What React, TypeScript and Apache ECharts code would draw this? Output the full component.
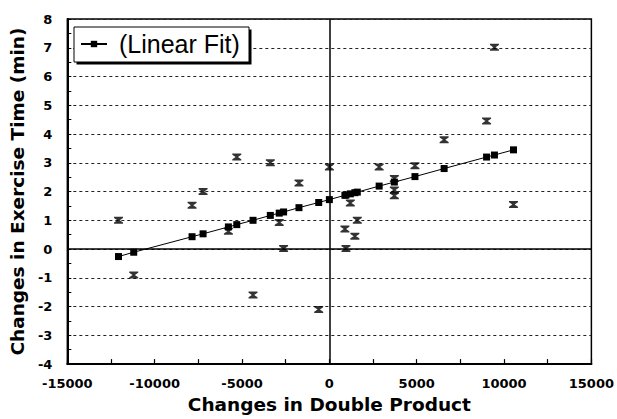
import React, { useEffect, useRef } from "react";
import * as echarts from "echarts";

// Linear fit points (x: change in double product, y: fitted change in exercise time)
const fitX = [-12070, -11200, -7860, -7230, -5780, -5300, -4370, -3380, -2870, -2620, -1740, -610, 0, 890, 950, 1200, 1460, 1600, 2850, 3720, 4900, 6570, 9000, 9450, 10540];
const fitY = [-0.26, -0.11, 0.43, 0.53, 0.77, 0.85, 1.0, 1.17, 1.25, 1.29, 1.44, 1.62, 1.72, 1.87, 1.88, 1.92, 1.96, 1.98, 2.19, 2.33, 2.52, 2.8, 3.2, 3.27, 3.45];

// Observed points
const obsX = [-12070, -11200, -7860, -7230, -5780, -5300, -4370, -3380, -2870, -2620, -1740, -610, 0, 890, 950, 1200, 1460, 1600, 2850, 3720, 3720, 3720, 4900, 6570, 9000, 9450, 10540];
const obsY = [1.0, -0.9, 1.52, 2.0, 0.62, 3.2, -1.6, 3.0, 0.92, 0.02, 2.3, -2.1, 2.85, 0.7, 0.02, 1.6, 0.45, 1.0, 2.85, 2.45, 2.05, 1.85, 2.9, 3.8, 4.45, 7.02, 1.55];

const xTitle = "Changes in Double Product";
const yTitle = "Changes in Exercise Time (min)";
const fitName = "(Linear Fit)";

const HOURGLASS = "path://M0,0 H10 V1.8 L6.3,5 L10,8.2 V10 H0 V8.2 L3.7,5 L0,1.8 Z";

export default function App() {
  const ref = useRef<HTMLDivElement>(null);
  useEffect(() => {
    if (!ref.current) return;
    const chart = echarts.init(ref.current, null, { renderer: "svg" });
    const fitData = fitX.map((x, i) => [x, fitY[i]]);
    const obsData = obsX.map((x, i) => [x, obsY[i]]);
    const tickFont = { fontFamily: "DejaVu Sans", fontWeight: "bold" as const, fontSize: 13, color: "#000" };
    chart.setOption({
      animation: false,
      backgroundColor: "#fff",
      grid: {
        left: 63,
        right: 22,
        top: 19,
        bottom: 48,
        show: true,
        borderColor: "#000",
        borderWidth: 1.5,
        backgroundColor: "transparent",
      },
      legend: {
        data: [fitName],
        left: 80,
        top: 29,
        orient: "horizontal",
        itemWidth: 26,
        itemHeight: 8,
        padding: 0,
        formatter: (n: string) => " " + n,
        textStyle: { fontFamily: "Liberation Sans", fontSize: 25, color: "#000", lineHeight: 30 },
        z: 10,
      },
      graphic: [
        {
          type: "rect",
          z: 8,
          shape: { x: 76.5, y: 29.5, width: 175, height: 35 },
          style: { fill: "#000" },
        },
        {
          type: "rect",
          z: 9,
          shape: { x: 74, y: 27, width: 175, height: 35 },
          style: { fill: "#fff", stroke: "#000", lineWidth: 1 },
        },
      ],
      xAxis: {
        type: "value",
        min: -15000,
        max: 15000,
        interval: 5000,
        name: xTitle,
        nameLocation: "middle",
        nameGap: 28,
        nameTextStyle: { fontFamily: "DejaVu Sans", fontWeight: "bold", fontSize: 18.5, color: "#000" },
        axisLine: { show: true, onZero: false, lineStyle: { color: "#000", width: 2 } },
        axisTick: { show: true, inside: true, length: 5, lineStyle: { color: "#000", width: 1.2 } },
        minorTick: { show: true, splitNumber: 2, length: 5, lineStyle: { color: "#000", width: 1.2 } },
        axisLabel: { ...tickFont, margin: 13, formatter: (v: number) => String(v) },
        splitLine: { show: false },
      },
      yAxis: {
        type: "value",
        min: -4,
        max: 8,
        interval: 1,
        name: yTitle,
        nameLocation: "middle",
        nameGap: 36,
        nameTextStyle: { fontFamily: "DejaVu Sans", fontWeight: "bold", fontSize: 18.5, color: "#000" },
        axisLine: { show: true, onZero: false, lineStyle: { color: "#000", width: 2 } },
        axisTick: { show: true, inside: true, length: 4, lineStyle: { color: "#000", width: 1 } },
        minorTick: { show: true, splitNumber: 2, length: 4, lineStyle: { color: "#000", width: 1 } },
        axisLabel: { ...tickFont, margin: 15 },
        splitLine: { show: true, lineStyle: { color: "#222", width: 1, type: [3, 3] } },
      },
      series: [
        {
          name: fitName,
          type: "line",
          data: fitData,
          symbol: "rect",
          symbolSize: 7,
          showAllSymbol: true,
          itemStyle: { color: "#000" },
          lineStyle: { color: "#000", width: 1 },
          z: 5,
          markLine: {
            silent: true,
            symbol: "none",
            label: { show: false },
            lineStyle: { color: "#000", width: 1.5, type: "solid" },
            data: [{ xAxis: 0 }, { yAxis: 0 }],
          },
        },
        {
          name: "Observed",
          type: "scatter",
          data: obsData,
          symbol: HOURGLASS,
          symbolSize: [9, 7],
          itemStyle: { color: "#000" },
          z: 6,
        },
      ],
    });
    return () => chart.dispose();
  }, []);
  return (
    <div
      ref={ref}
      style={{ position: "absolute", left: 0, top: 0, width: 617, height: 419, background: "#fff" }}
    />
  );
}
